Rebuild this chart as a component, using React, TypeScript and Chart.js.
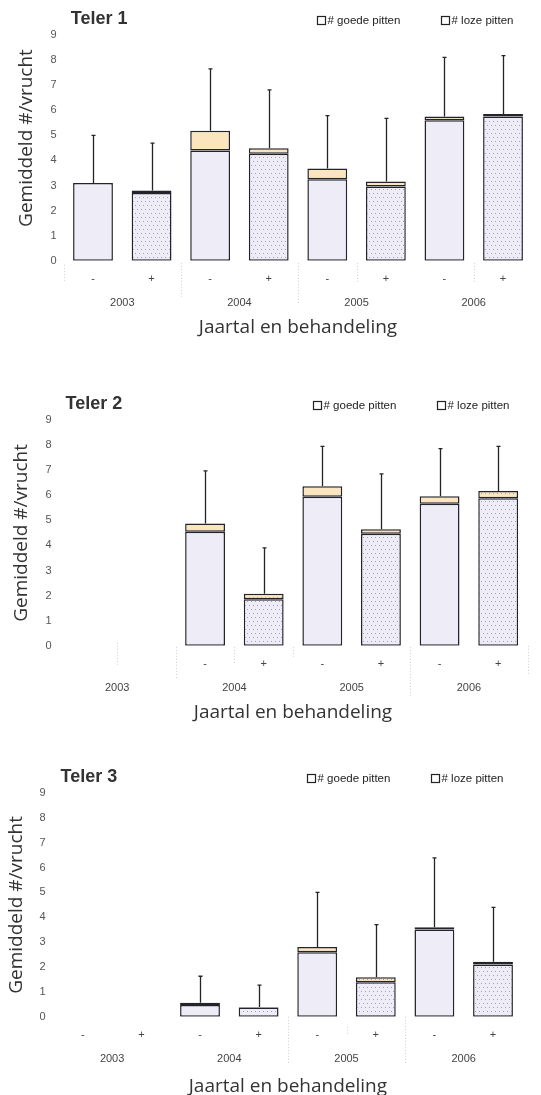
import React, { useEffect, useRef } from 'react';
import { Chart, registerables } from 'chart.js';

Chart.register(...registerables);

// ---------- data ----------
const treatments = ['-', '+', '-', '+', '-', '+', '-', '+'];
const treatmentsTeler2 = ['', '', '-', '+', '-', '+', '-', '+'];
const years = ['2003', '2004', '2005', '2006'];
const seriesLabels = ['# goede pitten', '# loze pitten'];
const yMax = 9;

const teler1Goede = [3.1, 2.7, 4.4, 4.27, 3.25, 2.96, 5.6, 5.75];
const teler1Loze = [0, 0.1, 0.78, 0.22, 0.43, 0.2, 0.15, 0.1];
const teler1Err = [5.0, 4.69, 7.65, 6.81, 5.79, 5.68, 8.11, 8.18];

const teler2Goede = [null, null, 4.55, 1.86, 5.94, 4.47, 5.66, 5.88];
const teler2Loze = [null, null, 0.32, 0.21, 0.42, 0.18, 0.3, 0.29];
const teler2Err = [null, null, 6.97, 3.9, 7.95, 6.85, 7.86, 7.95];

const teler3Goede = [null, null, 0.47, 0.37, 2.6, 1.39, 3.51, 2.1];
const teler3Loze = [null, null, 0.09, 0.02, 0.21, 0.2, 0.09, 0.11];
const teler3Err = [null, null, 1.63, 1.27, 5.0, 3.71, 6.39, 4.4];

// ---------- style ----------
const GOEDE_COLOR = '#eeedf7';
const LOZE_COLOR = '#fbe5bf';
const BORDER = '#23232b';
const SANS = '"Liberation Sans", Arial, sans-serif';
const HUMAN = '"Open Sans", "Noto Sans", sans-serif';

type PanelCfg = {
  title: string;
  labels: string[];
  goede: (number | null)[];
  loze: (number | null)[];
  err: (number | null)[];
  top: number;
  height: number;
  padTop: number;
  padLeft: number;
  padRight: number;
  yTitleText: string;
  yTitlePad: { top: number; bottom: number };
  yTickPad: number;
  xTitlePadTop: number;
  separators: [number, number, number][];
};

const panels: PanelCfg[] = [
  {
    title: 'Teler 1', labels: treatments, goede: teler1Goede, loze: teler1Loze, err: teler1Err,
    top: 0, height: 343, padTop: 35, padLeft: 15.6, padRight: 8.7,
    yTitleText: '    Gemiddeld #/vrucht', yTitlePad: { top: 0, bottom: 5.2 }, yTickPad: 7,
    xTitlePadTop: 0,
    separators: [[0, 4, 22], [2, 2, 36], [4, 2, 42], [5, 2, 22], [7, 2, 22]],
  },
  {
    title: 'Teler 2', labels: treatmentsTeler2, goede: teler2Goede, loze: teler2Loze, err: teler2Err,
    top: 380, height: 348, padTop: 40, padLeft: 10.6, padRight: 13.5,
    yTitleText: 'Gemiddeld #/vrucht', yTitlePad: { top: 0, bottom: 5.0 }, yTickPad: 7,
    xTitlePadTop: 0,
    separators: [[1, -3, 21], [2, 1, 34], [3, 1, 18], [4, 1, 12], [6, 1, 50], [8, 0, 28]],
  },
  {
    title: 'Teler 3', labels: treatments, goede: teler3Goede, loze: teler3Loze, err: teler3Err,
    top: 750, height: 352, padTop: 43, padLeft: 5.1, padRight: 18.7,
    yTitleText: 'Gemiddeld #/vrucht', yTitlePad: { top: 0, bottom: 3.5 }, yTickPad: 8,
    xTitlePadTop: 3,
    separators: [[4, 0, 46], [5, 10, 18], [6, 0, 46]],
  },
];

function makePattern(base: string, dot: string): CanvasPattern | string {
  const c = document.createElement('canvas');
  c.width = 8;
  c.height = 8;
  const g = c.getContext('2d');
  if (!g) return base;
  g.fillStyle = base;
  g.fillRect(0, 0, 8, 8);
  g.fillStyle = dot;
  [[1, 1], [5, 1], [3, 5], [7, 5]].forEach(([px, py]) => g.fillRect(px, py, 1, 1));
  const p = g.createPattern(c, 'repeat');
  return p || base;
}

function Panel({ cfg }: { cfg: PanelCfg }) {
  const ref = useRef<HTMLCanvasElement>(null);
  useEffect(() => {
    const canvas = ref.current;
    if (!canvas) return;
    const goedePat = makePattern(GOEDE_COLOR, '#a3a3b6');
    const lozePat = makePattern(LOZE_COLOR, '#b9a583');
    const goedeBg = treatments.map((t) => (t === '+' ? goedePat : GOEDE_COLOR));
    const lozeBg = treatments.map((t) => (t === '+' ? lozePat : LOZE_COLOR));

    const overlay = {
      id: 'overlay' + cfg.title.replace(' ', ''),
      afterDatasetsDraw(chart: any) {
        const { ctx, scales } = chart;
        const xs = scales.x;
        const ys = scales.y;
        ctx.save();
        ctx.strokeStyle = BORDER;
        ctx.lineWidth = 1.3;
        cfg.err.forEach((v, i) => {
          if (v == null) return;
          const stackTop = (cfg.goede[i] ?? 0) + (cfg.loze[i] ?? 0);
          const cx = Math.round(xs.getPixelForValue(i)) + 0.5;
          const y0 = ys.getPixelForValue(stackTop);
          const y1 = ys.getPixelForValue(v);
          ctx.beginPath();
          ctx.moveTo(cx, y0);
          ctx.lineTo(cx, y1);
          ctx.moveTo(cx - 2, y1);
          ctx.lineTo(cx + 2, y1);
          ctx.stroke();
        });
        ctx.restore();
      },
      afterDraw(chart: any) {
        const { ctx, chartArea, scales } = chart;
        const xs = scales.x;
        ctx.save();
        // faint separators below the axis
        ctx.strokeStyle = '#cfcfcf';
        ctx.lineWidth = 1;
        ctx.setLineDash([1, 2]);
        const step = xs.width / treatments.length;
        cfg.separators.forEach(([idx, a, b]) => {
          const sx = Math.round(xs.left + idx * step) + 0.5;
          ctx.beginPath();
          ctx.moveTo(sx, chartArea.bottom + a);
          ctx.lineTo(sx, chartArea.bottom + b);
          ctx.stroke();
        });
        ctx.setLineDash([]);
        // panel title
        const ty = chartArea.top - 16;
        ctx.fillStyle = '#333';
        ctx.font = 'bold 18px ' + SANS;
        ctx.textAlign = 'left';
        ctx.textBaseline = 'middle';
        ctx.fillText(cfg.title, chartArea.left + 7, ty);
        // legend
        const ly = chartArea.top - 15;
        const offsets = [215, 91];
        ctx.font = '11.5px ' + SANS;
        seriesLabels.forEach((lab, k) => {
          const bx = Math.round(chartArea.right - offsets[k]) + 0.5;
          ctx.fillStyle = '#fff';
          ctx.fillRect(bx, Math.round(ly - 4) + 0.5, 8, 8);
          ctx.strokeStyle = '#222';
          ctx.lineWidth = 1.2;
          ctx.strokeRect(bx, Math.round(ly - 4) + 0.5, 8, 8);
          ctx.fillStyle = '#222';
          ctx.fillText(lab, bx + 10, ly + 0.5);
        });
        ctx.restore();
      },
    };

    const tickFont = { family: SANS, size: 11 };
    const chart = new Chart(canvas, {
      type: 'bar',
      data: {
        labels: cfg.labels,
        datasets: [
          {
            label: seriesLabels[0],
            data: cfg.goede as any,
            backgroundColor: goedeBg as any,
            borderColor: BORDER,
            borderWidth: 1.5,
            borderSkipped: false,
            stack: 's',
            categoryPercentage: 1,
            barPercentage: 0.68,
          },
          {
            label: seriesLabels[1],
            data: cfg.loze as any,
            backgroundColor: lozeBg as any,
            borderColor: BORDER,
            borderWidth: 1.5,
            borderSkipped: false,
            stack: 's',
            categoryPercentage: 1,
            barPercentage: 0.68,
          },
        ],
      },
      options: {
        animation: false,
        responsive: false,
        maintainAspectRatio: false,
        layout: { padding: { top: cfg.padTop, left: cfg.padLeft, right: cfg.padRight, bottom: 0 } },
        plugins: {
          legend: { display: false },
          title: { display: false },
          tooltip: { enabled: false },
        },
        scales: {
          x: {
            stacked: true,
            offset: true,
            weight: 0,
            grid: { color: 'transparent', drawOnChartArea: false, drawTicks: true, tickLength: 9 },
            border: { display: false },
            ticks: { padding: 3, font: tickFont, color: '#444', maxRotation: 0, autoSkip: false },
          },
          x2: {
            type: 'category',
            labels: years,
            position: 'bottom',
            offset: true,
            weight: 1,
            grid: { display: false, drawTicks: false },
            border: { display: false },
            ticks: { padding: 7, font: tickFont, color: '#444', maxRotation: 0, autoSkip: false },
            title: {
              display: true,
              text: 'Jaartal en behandeling',
              font: { family: HUMAN, size: 19 },
              color: '#333',
              padding: { top: cfg.xTitlePadTop, bottom: 4 },
            },
          },
          y: {
            stacked: true,
            min: 0,
            max: yMax,
            grid: { display: false, drawTicks: false },
            border: { display: false },
            ticks: { stepSize: 1, padding: cfg.yTickPad, font: tickFont, color: '#555' },
            title: {
              display: true,
              text: cfg.yTitleText,
              font: { family: HUMAN, size: 19 },
              color: '#333',
              padding: cfg.yTitlePad,
            },
          },
        } as any,
      },
      plugins: [overlay],
    });
    return () => chart.destroy();
  }, [cfg]);

  return (
    <canvas
      ref={ref}
      width={541}
      height={cfg.height}
      style={{ position: 'absolute', left: 0, top: cfg.top, width: 541, height: cfg.height }}
    />
  );
}

export default function App() {
  return (
    <div
      style={{
        position: 'absolute',
        left: 0,
        top: 0,
        width: 541,
        height: 1095,
        overflow: 'hidden',
        background: '#fff',
      }}
    >
      {panels.map((p) => (
        <Panel key={p.title} cfg={p} />
      ))}
    </div>
  );
}
